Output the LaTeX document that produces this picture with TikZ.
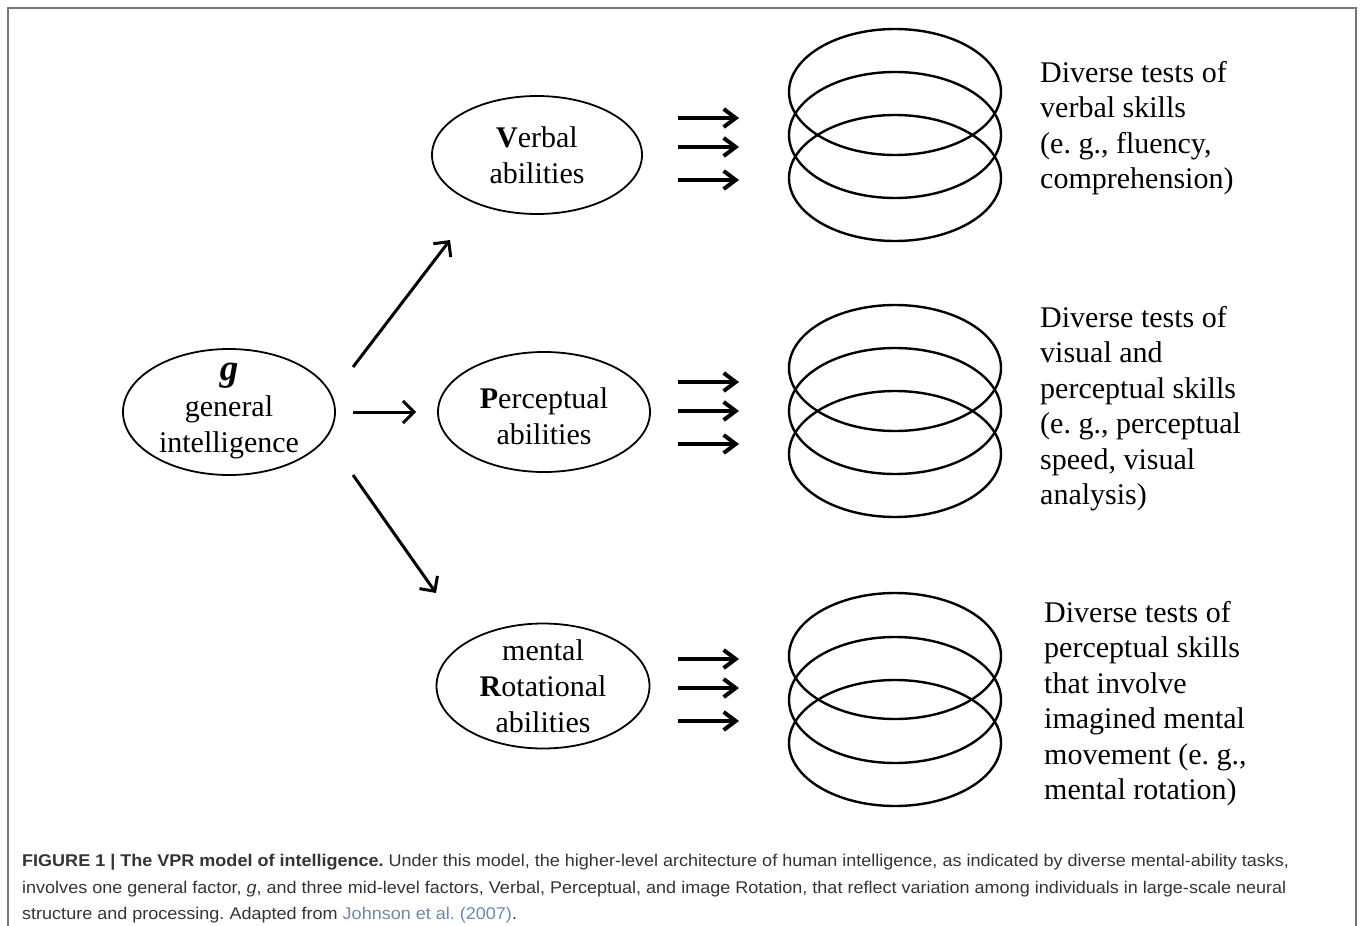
\documentclass[tikz,border=0pt]{standalone}
\usepackage{fontspec}
\setmainfont{Liberation Serif}
\newfontfamily\capfont[FakeStretch=1.06]{Liberation Sans}
\usetikzlibrary{arrows.meta, shapes.geometric, calc}
\frenchspacing

\definecolor{framegray}{RGB}{118,118,118}
\definecolor{capgray}{RGB}{52,52,52}
\definecolor{refblue}{RGB}{112,136,166}

\tikzset{
  ability/.style={draw, ellipse, line width=1.8pt, inner sep=0pt},
  abilitytext/.style={align=center, inner sep=0pt, font=\fontsize{30}{36}\selectfont},
  fanarrow/.style={line width=3pt, -{Straight Barb[length=11pt,width=22pt]}},
  testarrow/.style={line width=4pt, -{Straight Barb[length=12pt,width=18pt]}},
  ring/.style={line width=2.4pt},
  skills/.style={anchor=north west, align=left, inner sep=0pt, font=\fontsize{30}{35.5}\selectfont},
}

\begin{document}
\begin{tikzpicture}[x=1pt,y=1pt,yscale=-1,xscale=1]
\useasboundingbox (0,0) rectangle (1360,926);

%Frame
\draw [framegray, line width=2pt] (8,930) -- (8,8) -- (1356,8) -- (1356,930) ;

%Shape: Ellipse (g)
\node [ability, minimum width=212, minimum height=126] (g) at (229,412) {};
\node [abilitytext] (gtext) at (229,411) {{\fontsize{37}{36}\selectfont\textbf{\textit{g}}}\\general\\intelligence};
%Shape: Ellipse (V)
\node [ability, minimum width=210, minimum height=118] (verbal) at (537,155) {};
\node [abilitytext] (verbaltext) at (537,155) {\textbf{V}erbal\\abilities};
%Shape: Ellipse (P)
\node [ability, minimum width=212, minimum height=120] (percep) at (544,412) {};
\node [abilitytext] (perceptext) at (544,416) {\textbf{P}erceptual\\abilities};
%Shape: Ellipse (R)
\node [ability, minimum width=213, minimum height=125] (rotat) at (543,686) {};
\node [abilitytext] (rotattext) at (543,686) {mental\\\textbf{R}otational\\abilities};

%Straight Lines (fan out of g)
\coordinate (fanup0) at (353,367);  \coordinate (fanup1) at (450,240);
\coordinate (fanmid0) at (353,412); \coordinate (fanmid1) at (416,412);
\coordinate (fandn0) at (353,475);  \coordinate (fandn1) at (436,593);
\draw [fanarrow] (fanup0) -- (fanup1) ;
\draw [fanarrow] (fanmid0) -- (fanmid1) ;
\draw [fanarrow] (fandn0) -- (fandn1) ;

%Straight Lines (to the tests)
\foreach \row/\yc in {1/149, 2/413, 3/690} {
  \coordinate (tests\row) at (678,\yc);
  \foreach \dy in {-31,-2,31}
    \draw [testarrow] ($(tests\row)+(0,\dy)$) -- ++(61,0) ;
}

%Shape: Ellipse (rings)
\foreach \yc in {92,135,178, 368,411,454, 656,700,743}
  \draw [ring] (895,\yc) ellipse [x radius=106, y radius=63] ;

% Text Node
\node [skills] (verbalskills) at (1040,61) {Diverse tests of\\verbal skills\\(e. g., fluency,\\comprehension)};
% Text Node
\node [skills] (percepskills) at (1040,306) {Diverse tests of\\visual and\\perceptual skills\\(e. g., perceptual\\speed, visual\\analysis)};
% Text Node
\node [skills] (rotatskills) at (1044,601) {Diverse tests of\\perceptual skills\\that involve\\imagined mental\\movement (e. g.,\\mental rotation)};

% Text Node (caption)
\node [anchor=north west, align=left, inner sep=0pt, text=capgray, font=\capfont\fontsize{17}{26.5}\selectfont] (caption) at (22,854)
  {\textbf{FIGURE 1 | The VPR model of intelligence.} Under this model, the higher-level architecture of human intelligence, as indicated by diverse mental-ability tasks,\\
   involves one general factor, \textit{g}, and three mid-level factors, Verbal, Perceptual, and image Rotation, that reflect variation among individuals in large-scale neural\\
   structure and processing. Adapted from \textcolor{refblue}{Johnson et al. (2007)}.};

\end{tikzpicture}
\end{document}
